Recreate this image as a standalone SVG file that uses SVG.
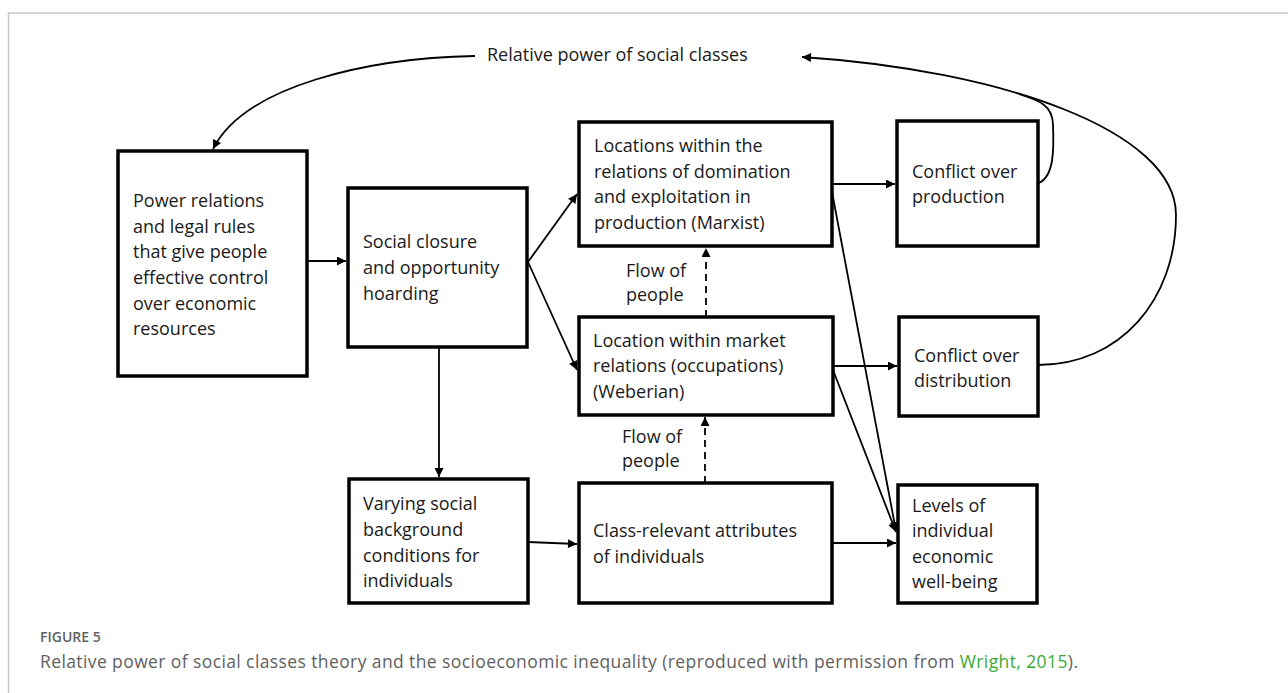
<svg xmlns="http://www.w3.org/2000/svg" width="1288" height="693" viewBox="0 0 1288 693">
<style>
.box{fill:#fff;stroke:#000;stroke-width:3.5}
.t{font-family:"Open Sans","Liberation Sans",sans-serif;font-size:18px;fill:#1a1a1a}
.c{fill:none;stroke:#000;stroke-width:1.8}
.d{fill:none;stroke:#000;stroke-width:1.8;stroke-dasharray:7 5}
.cap{font-family:"Open Sans","Liberation Sans",sans-serif;fill:#5f5f5f}
</style>
<defs>
<marker id="ah" viewBox="0 0 10 10" refX="10" refY="5" markerWidth="10" markerHeight="9" markerUnits="userSpaceOnUse" orient="auto">
<path d="M0 0 L10 5 L0 10 Z" fill="#000"/>
</marker>
</defs>
<rect width="1288" height="693" fill="#fff"/>
<path d="M8.5 693 V13 H1288" fill="none" stroke="#c8c8c8" stroke-width="1.5"/>

<g id="connectors">
<path class="c" d="M475 56 C370 58 245 85 213 149" marker-end="url(#ah)"/>
<path class="c" d="M1038 365 C1120 365 1176 300 1176 215 C1176 130 1000 70 802 57" marker-end="url(#ah)"/>
<path class="c" d="M1039 183 C1054 176 1054 150 1053 125 C1053 105 1038 100 1019 94"/>
<path class="c" d="M307 261 H346" marker-end="url(#ah)"/>
<path class="c" d="M528 262 L577 194" marker-end="url(#ah)"/>
<path class="c" d="M528 262 L577 370" marker-end="url(#ah)"/>
<path class="c" d="M439 347 V477" marker-end="url(#ah)"/>
<path class="c" d="M832 184 H895" marker-end="url(#ah)"/>
<path class="c" d="M833 366 H897" marker-end="url(#ah)"/>
<path class="c" d="M832 192 L896 531" marker-end="url(#ah)"/>
<path class="c" d="M833 370 L896 532" marker-end="url(#ah)"/>
<path class="c" d="M832 543 H896" marker-end="url(#ah)"/>
<path class="c" d="M528 542 L577 544" marker-end="url(#ah)"/>
<path class="d" d="M706 317 V248" marker-end="url(#ah)"/>
<path class="d" d="M705 483 V417" marker-end="url(#ah)"/>
<text class="t" x="487" y="61" font-size="18.5">Relative power of social classes</text>
<text class="t" x="626" y="277">Flow of</text>
<text class="t" x="626" y="301">people</text>
<text class="t" x="622" y="443">Flow of</text>
<text class="t" x="622" y="467">people</text>
</g>

<g id="n1"><rect class="box" x="118" y="151" width="189" height="225"/>
<text class="t"><tspan x="133" y="207">Power relations</tspan><tspan x="133" y="233">and legal rules</tspan><tspan x="133" y="258">that give people</tspan><tspan x="133" y="284">effective control</tspan><tspan x="133" y="310">over economic</tspan><tspan x="133" y="335">resources</tspan></text></g>

<g id="n2"><rect class="box" x="348" y="188" width="179" height="159"/>
<text class="t"><tspan x="363" y="248">Social closure</tspan><tspan x="363" y="274">and opportunity</tspan><tspan x="363" y="300">hoarding</tspan></text></g>

<g id="n3"><rect class="box" x="579" y="122" width="253" height="124"/>
<text class="t"><tspan x="594" y="152">Locations within the</tspan><tspan x="594" y="178">relations of domination</tspan><tspan x="594" y="203">and exploitation in</tspan><tspan x="594" y="229">production (Marxist)</tspan></text></g>

<g id="n4"><rect class="box" x="579" y="317" width="254" height="98"/>
<text class="t"><tspan x="593" y="347">Location within market</tspan><tspan x="593" y="372">relations (occupations)</tspan><tspan x="593" y="398">(Weberian)</tspan></text></g>

<g id="n5"><rect class="box" x="897" y="121" width="141" height="125"/>
<text class="t"><tspan x="912" y="178">Conflict over</tspan><tspan x="912" y="203">production</tspan></text></g>

<g id="n6"><rect class="box" x="899" y="317" width="139" height="99"/>
<text class="t"><tspan x="914" y="362">Conflict over</tspan><tspan x="914" y="387">distribution</tspan></text></g>

<g id="n7"><rect class="box" x="349" y="479" width="179" height="124"/>
<text class="t"><tspan x="363" y="510">Varying social</tspan><tspan x="363" y="536">background</tspan><tspan x="363" y="562">conditions for</tspan><tspan x="363" y="587">individuals</tspan></text></g>

<g id="n8"><rect class="box" x="579" y="483" width="253" height="120"/>
<text class="t"><tspan x="593" y="537">Class-relevant attributes</tspan><tspan x="593" y="563">of individuals</tspan></text></g>

<g id="n9"><rect class="box" x="898" y="485" width="139" height="118"/>
<text class="t"><tspan x="912" y="512">Levels of</tspan><tspan x="912" y="537">individual</tspan><tspan x="912" y="563">economic</tspan><tspan x="912" y="588">well-being</tspan></text></g>

<text class="cap" x="40" y="642" font-size="14" font-weight="600" fill="#6a6a6a">FIGURE 5</text>
<text class="cap" x="40" y="668" font-size="17.5" textLength="1038" lengthAdjust="spacing">Relative power of social classes theory and the socioeconomic inequality (reproduced with permission from <tspan fill="#3aaa35">Wright, 2015</tspan>).</text>
</svg>
